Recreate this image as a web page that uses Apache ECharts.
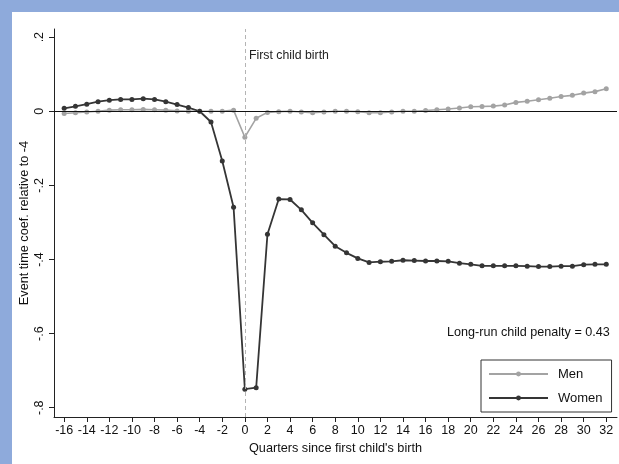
<!DOCTYPE html>
<html>
<head>
<meta charset="utf-8">
<title>Child penalty event study</title>
<script src="https://cdn.jsdelivr.net/npm/echarts@6/dist/echarts.min.js"></script>
<style>
  html, body {
    margin: 0;
    padding: 0;
    width: 619px;
    height: 464px;
    background: #8eaadb;
    overflow: hidden;
  }
  #chart {
    position: absolute;
    left: 12px;
    top: 12px;
    width: 607px;
    height: 452px;
  }
</style>
</head>
<body>
<div id="chart"></div>
<script>
/* 事件时间（季度） */
const quarters = [
  -16, -15, -14, -13, -12, -11, -10, -9, -8, -7, -6, -5, -4, -3, -2, -1,
  0, 1, 2, 3, 4, 5, 6, 7, 8, 9, 10, 11, 12, 13, 14, 15, 16,
  17, 18, 19, 20, 21, 22, 23, 24, 25, 26, 27, 28, 29, 30, 31, 32
]

/* 男性系数 */
const men = [
  -0.006, -0.004, -0.002, 0.000, 0.003, 0.004, 0.004, 0.005, 0.004, 0.003, 0.001, 0.000, 0.000, 0.000, 0.000, 0.003,
  -0.070, -0.019, -0.003, -0.001, 0.000, -0.002, -0.004, -0.002, 0.000, 0.000, -0.001, -0.004, -0.004, -0.002, 0.000, 0.000, 0.002,
  0.004, 0.006, 0.009, 0.012, 0.013, 0.014, 0.017, 0.024, 0.027, 0.031, 0.035, 0.040, 0.043, 0.049, 0.053, 0.061
]

/* 女性系数 */
const women = [
  0.008, 0.0135, 0.019, 0.026, 0.030, 0.032, 0.032, 0.034, 0.032, 0.026, 0.018, 0.010, 0.000, -0.029, -0.134, -0.259,
  -0.750, -0.746, -0.332, -0.237, -0.238, -0.266, -0.301, -0.333, -0.364, -0.382, -0.397, -0.408, -0.406, -0.405, -0.402, -0.403, -0.404,
  -0.404, -0.405, -0.410, -0.413, -0.417, -0.417, -0.417, -0.417, -0.418, -0.419, -0.419, -0.418, -0.418, -0.414, -0.413, -0.413
]

/* 刻度 */
const xTicks = [-16, -14, -12, -10, -8, -6, -4, -2, 0, 2, 4, 6, 8, 10, 12, 14, 16, 18, 20, 22, 24, 26, 28, 30, 32]
const yTicks = [-0.8, -0.6, -0.4, -0.2, 0, 0.2]

const FONT = 'Liberation Sans, Arial, sans-serif'

// Stata 风格的数字：.2 / -.4
function stataNum(v) {
  if (v === 0) return '0'
  const s = String(Math.round(v * 10) / 10)
  return s.replace('0.', '.')
}

const chart = echarts.init(document.getElementById('chart'))

chart.setOption({
  backgroundColor: '#ffffff',
  animation: false,
  textStyle: { fontFamily: FONT },
  /* 绘图区域 */
  grid: {
    left: 42,
    top: 17,
    width: 563,
    height: 388,
    containLabel: false,
    outerBoundsMode: 'none'
  },
  /* 图例 */
  legend: {
    orient: 'vertical',
    left: 469,
    top: 348,
    padding: [6, 9, 6, 7],
    itemGap: 8,
    itemWidth: 59,
    itemHeight: 6,
    borderColor: '#333',
    borderWidth: 1,
    borderRadius: 0,
    textStyle: {
      fontFamily: FONT,
      fontSize: 13,
      color: '#111',
      lineHeight: 16,
      padding: [0, 0, 0, 5]
    },
    data: ['Men', 'Women']
  },
  xAxis: {
    type: 'value',
    min: -16.9,
    max: 32.95,
    name: "Quarters since first child's birth",
    nameLocation: 'middle',
    nameGap: 24,
    nameTextStyle: { fontFamily: FONT, fontSize: 12.7, color: '#111' },
    axisLine: { onZero: false, lineStyle: { color: '#222', width: 1 } },
    axisTick: { customValues: xTicks, length: 5, lineStyle: { color: '#222' } },
    axisLabel: {
      customValues: xTicks,
      margin: 7,
      fontFamily: FONT,
      fontSize: 12.5,
      color: '#111'
    },
    splitLine: { show: false }
  },
  yAxis: {
    type: 'value',
    min: -0.825,
    max: 0.222,
    axisLine: { show: true, onZero: false, lineStyle: { color: '#222', width: 1 } },
    axisTick: { show: true, customValues: yTicks, length: 5, lineStyle: { color: '#222' } },
    axisLabel: {
      customValues: yTicks,
      rotate: 90,
      margin: 8,
      fontFamily: FONT,
      fontSize: 12.5,
      color: '#111',
      formatter: stataNum
    },
    splitLine: { show: false }
  },
  /* 注释文字（y 轴标题放这里，位置好控制） */
  graphic: [
    {
      type: 'text',
      x: 12,
      y: 211,
      rotation: Math.PI / 2,
      style: {
        text: 'Event time coef. relative to -4',
        fontFamily: FONT,
        fontSize: 12.7,
        fill: '#111',
        align: 'center',
        verticalAlign: 'middle'
      }
    },
    {
      type: 'text',
      left: 237,
      top: 38,
      style: { text: 'First child birth', fontFamily: FONT, fontSize: 12.3, fill: '#222' }
    },
    {
      type: 'text',
      left: 435,
      top: 314,
      style: { text: 'Long-run child penalty = 0.43', fontFamily: FONT, fontSize: 12.6, fill: '#111' }
    }
  ],
  series: [
    {
      // 参考线：y = 0 与 x = 0
      type: 'line',
      data: [],
      silent: true,
      markLine: {
        silent: true,
        symbol: 'none',
        animation: false,
        label: { show: false },
        data: [
          { yAxis: 0, lineStyle: { color: '#111', width: 1, type: 'solid' } },
          { xAxis: 0, lineStyle: { color: '#b4b4b4', width: 1, type: [4, 3] } }
        ]
      }
    },
    {
      name: 'Men',
      type: 'line',
      data: quarters.map((q, i) => [q, men[i]]),
      symbol: 'circle',
      symbolSize: 5,
      showAllSymbol: true,
      lineStyle: { color: '#a3a3a3', width: 1.6 },
      itemStyle: { color: '#a3a3a3' }
    },
    {
      name: 'Women',
      type: 'line',
      data: quarters.map((q, i) => [q, women[i]]),
      symbol: 'circle',
      symbolSize: 5,
      showAllSymbol: true,
      lineStyle: { color: '#353535', width: 1.8 },
      itemStyle: { color: '#353535' }
    }
  ]
})
</script>
</body>
</html>
